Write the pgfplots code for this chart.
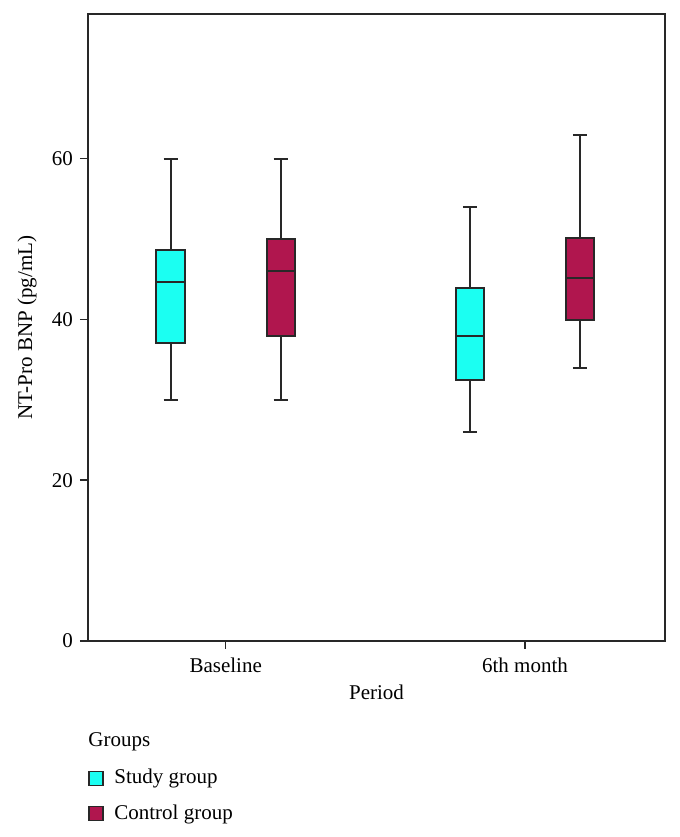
\documentclass[border=0pt]{standalone}
\usepackage{fontspec}
\setmainfont{Liberation Serif}
\usepackage{pgfplots}
\pgfplotsset{compat=1.18}

\definecolor{studyc}{RGB}{27,255,242}
\definecolor{ctrlc}{RGB}{176,22,78}
\definecolor{linec}{RGB}{40,40,40}

% box = box outline, wh = whiskers + caps, md = median
\pgfplotsset{
    bx/.style={forget plot, draw=linec, line width=1pt, mark=none},
}

\begin{document}
\begin{tikzpicture}[font=\fontsize{10.5}{12.5}\selectfont]
\begin{axis}[
    name=ax,
    scale only axis,
    width=288.5pt, height=313.5pt,
    xmin=-0.46, xmax=1.468,
    ymin=0, ymax=78,
    xtick={0,1},
    xticklabels={Baseline,6th month},
    ytick={0,20,40,60},
    tick pos=left,
    tick align=outside,
    major tick length=4pt,
    axis line style={linec, line width=1pt},
    tick style={linec, line width=0.8pt},
    /pgf/number format/assume math mode=true,
    unbounded coords=jump,
    xlabel={Period},
    ylabel={NT-Pro BNP (pg/mL)},
    xticklabel style={yshift=-1pt},
    xlabel style={yshift=1pt},
    ylabel style={at={(axis description cs:0,0.5)}, anchor=center, yshift=30.5pt},
    legend style={
        at={(0,0)}, anchor=north west,
        xshift=0pt, yshift=-62pt,
        draw=none, fill=none,
        font=\fontsize{10.5}{12.5}\selectfont,
        cells={anchor=west},
        row sep=5pt,
        inner sep=0pt,
    },
    legend cell align=left,
]

% --- Baseline, study: 30 / 37.1 / 44.6 / 48.6 / 60 ---
\addplot[bx] coordinates {(-0.2075,60) (-0.1605,60) (nan,nan) (-0.184,60) (-0.184,30) (nan,nan) (-0.2075,30) (-0.1605,30)};
\addplot[bx, fill=studyc] coordinates {(-0.2315,37.1) (-0.1365,37.1) (-0.1365,48.6) (-0.2315,48.6)} -- cycle;
\addplot[bx] coordinates {(-0.2315,44.6) (-0.1365,44.6)};

% --- Baseline, control: 30 / 38 / 46 / 50 / 60 ---
\addplot[bx] coordinates {(0.1605,60) (0.2075,60) (nan,nan) (0.184,60) (0.184,30) (nan,nan) (0.1605,30) (0.2075,30)};
\addplot[bx, fill=ctrlc] coordinates {(0.1365,38) (0.2315,38) (0.2315,50) (0.1365,50)} -- cycle;
\addplot[bx] coordinates {(0.1365,46) (0.2315,46)};

% --- 6th month, study: 26 / 32.5 / 38 / 43.9 / 54 ---
\addplot[bx] coordinates {(0.7925,54) (0.8395,54) (nan,nan) (0.816,54) (0.816,26) (nan,nan) (0.7925,26) (0.8395,26)};
\addplot[bx, fill=studyc] coordinates {(0.7685,32.5) (0.8635,32.5) (0.8635,43.9) (0.7685,43.9)} -- cycle;
\addplot[bx] coordinates {(0.7685,38) (0.8635,38)};

% --- 6th month, control: 34 / 39.9 / 45.2 / 50.1 / 62.9 ---
\addplot[bx] coordinates {(1.1605,62.9) (1.2075,62.9) (nan,nan) (1.184,62.9) (1.184,34) (nan,nan) (1.1605,34) (1.2075,34)};
\addplot[bx, fill=ctrlc] coordinates {(1.1365,39.9) (1.2315,39.9) (1.2315,50.1) (1.1365,50.1)} -- cycle;
\addplot[bx] coordinates {(1.1365,45.2) (1.2315,45.2)};

\addlegendimage{legend image code/.code={\draw[fill=studyc, draw=linec, line width=0.6pt] (0pt,-3.5pt) rectangle (7pt,3.5pt); \path (10.5pt,0pt);}}
\addlegendentry{Study group}
\addlegendimage{legend image code/.code={\draw[fill=ctrlc, draw=linec, line width=0.6pt] (0pt,-3.5pt) rectangle (7pt,3.5pt); \path (10.5pt,0pt);}}
\addlegendentry{Control group}
\end{axis}

\node[anchor=west, inner sep=0pt] at ([yshift=-50.5pt]ax.south west) {Groups};

\pgfresetboundingbox
\path[use as bounding box] ([xshift=-44pt, yshift=7pt]ax.north west)
    rectangle ([xshift=7pt, yshift=-98pt]ax.south east);
\end{tikzpicture}
\end{document}
